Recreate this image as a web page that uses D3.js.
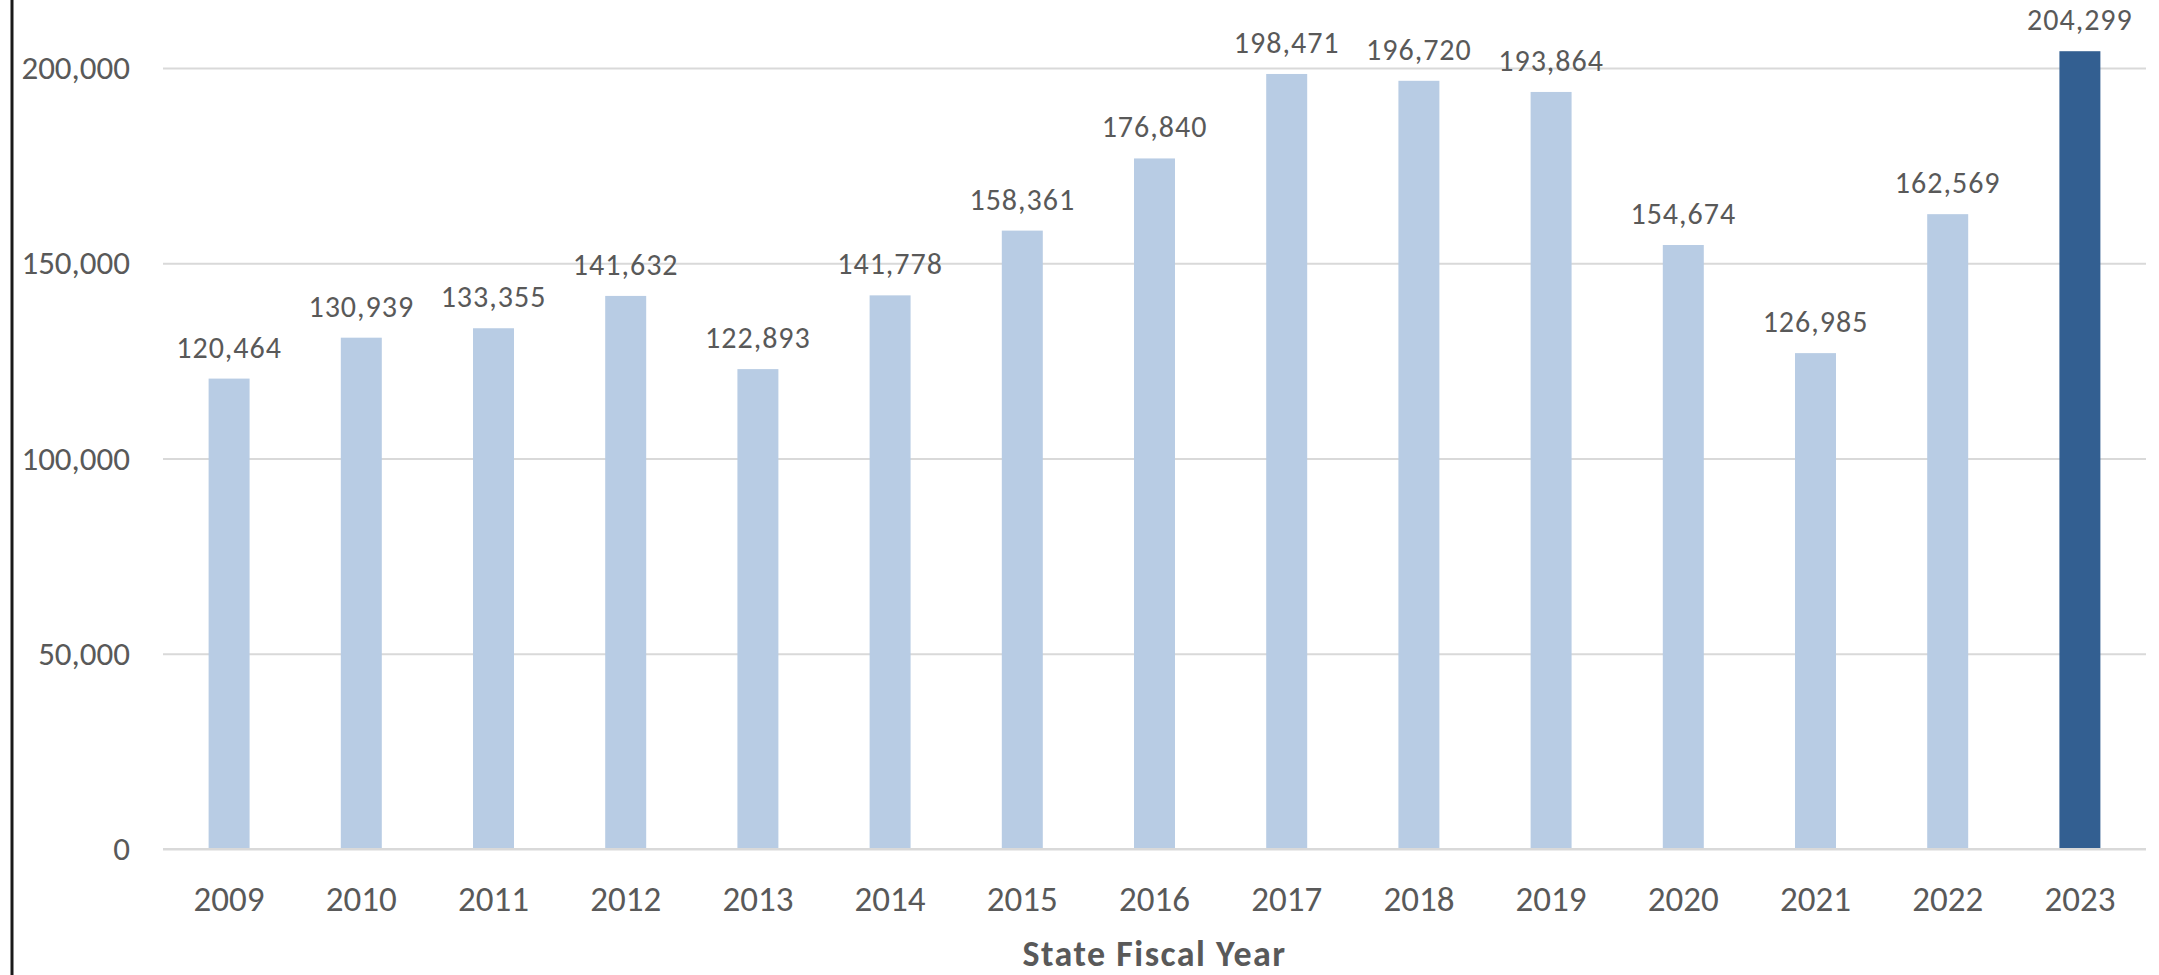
<!DOCTYPE html>
<html>
<head>
<meta charset="utf-8">
<script src="https://cdn.jsdelivr.net/npm/d3@7"></script>
<style>
  html, body { margin: 0; padding: 0; background: #fff; }
  svg { display: block; }
  text { font-family: Carlito, Calibri, Lato, sans-serif; fill: #595959; }
</style>
</head>
<body>
<div id="chart"></div>
<script>
// data
const years = ["2009", "2010", "2011", "2012", "2013", "2014", "2015", "2016",
               "2017", "2018", "2019", "2020", "2021", "2022", "2023"];
const counts = [120464, 130939, 133355, 141632, 122893, 141778, 158361, 176840,
                198471, 196720, 193864, 154674, 126985, 162569, 204299];
const yTicks = [0, 50000, 100000, 150000, 200000];
const highlightYear = "2023";
const xTitle = "State Fiscal Year";

const width = 2159, height = 975;
const plot = {left: 163, right: 2146, top: 68, bottom: 849};
const lightBlue = "#b8cce4";
const darkBlue = "#335f91";
const fontStack = "Carlito, Calibri, Lato, sans-serif";

const rows = years.map((y, i) => ({year: y, value: counts[i]}));

const svg = d3.select("#chart").append("svg")
    .attr("width", width)
    .attr("height", height);

const x = d3.scaleBand()
    .domain(years)
    .range([plot.left, plot.right])
    .paddingInner(0.69)
    .paddingOuter(0.345);

const y = d3.scaleLinear()
    .domain([0, 200000])
    .range([plot.bottom, plot.top]);

// gridlines + y labels
const yAxis = d3.axisLeft(y)
    .tickValues(yTicks)
    .tickSize(-(plot.right - plot.left))
    .tickPadding(33)
    .tickFormat(d3.format(","));

svg.append("g")
    .attr("transform", "translate(" + plot.left + ",0)")
    .call(yAxis)
    .call(g => g.select(".domain").remove())
    .call(g => g.selectAll(".tick line").attr("stroke", "#d9d9d9").attr("stroke-width", 2))
    .call(g => g.selectAll(".tick text")
        .attr("font-size", 33)
        .attr("fill", "#595959")
        .style("font-family", fontStack));

// bars
svg.append("g").selectAll("rect")
    .data(rows)
    .join("rect")
    .attr("x", d => x(d.year))
    .attr("y", d => y(d.value))
    .attr("width", x.bandwidth())
    .attr("height", d => y(0) - y(d.value))
    .attr("fill", d => d.year === highlightYear ? darkBlue : lightBlue);

// value labels
svg.append("g").selectAll("text")
    .data(rows)
    .join("text")
    .attr("x", d => x(d.year) + x.bandwidth() / 2)
    .attr("y", d => y(d.value) - 21)
    .attr("text-anchor", "middle")
    .attr("font-size", 30)
    .attr("letter-spacing", 1)
    .text(d => d3.format(",")(d.value));

// x axis
const xAxis = d3.axisBottom(x).tickSize(0).tickPadding(37);
svg.append("g")
    .attr("transform", "translate(0," + plot.bottom + ")")
    .call(xAxis)
    .call(g => g.select(".domain").remove())
    .call(g => g.selectAll(".tick text")
        .attr("font-size", 35)
        .attr("fill", "#595959")
        .style("font-family", fontStack));

// baseline drawn over the bars' bottom edge
svg.append("line")
    .attr("x1", plot.left).attr("x2", plot.right)
    .attr("y1", y(0)).attr("y2", y(0))
    .attr("stroke", "#d9d9d9").attr("stroke-width", 2);

svg.append("text")
    .attr("x", (plot.left + plot.right) / 2)
    .attr("y", 966)
    .attr("text-anchor", "middle")
    .attr("font-size", 36)
    .attr("font-weight", "bold")
    .attr("letter-spacing", 1.5)
    .text(xTitle);

// left frame edge
svg.append("line")
    .attr("x1", 12).attr("x2", 12)
    .attr("y1", 0).attr("y2", height)
    .attr("stroke", "#1a1a1a").attr("stroke-width", 3);
</script>
</body>
</html>
